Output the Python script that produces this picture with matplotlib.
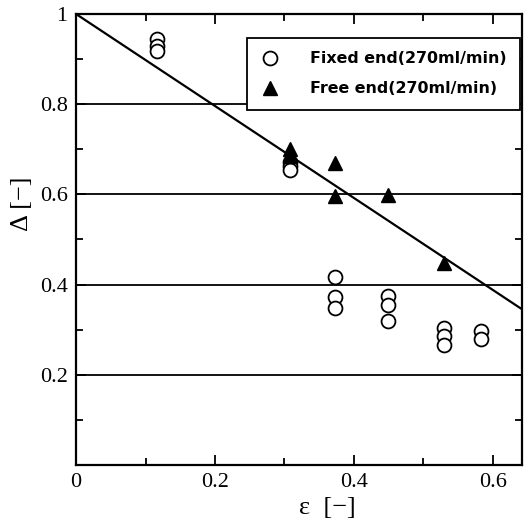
import matplotlib.pyplot as plt
from matplotlib.ticker import MultipleLocator

# Fixed end (270ml/min), open circles
fixed_eps = [0.117, 0.117, 0.117, 0.308, 0.308, 0.308,
             0.373, 0.373, 0.373, 0.449, 0.449, 0.449,
             0.530, 0.530, 0.530, 0.583, 0.583]
fixed_delta = [0.945, 0.93, 0.918, 0.672, 0.662, 0.655,
               0.417, 0.372, 0.348, 0.375, 0.355, 0.319,
               0.303, 0.285, 0.265, 0.296, 0.280]

# Free end (270ml/min), filled triangles
free_eps = [0.308, 0.308, 0.373, 0.373, 0.449, 0.530]
free_delta = [0.70, 0.685, 0.67, 0.597, 0.599, 0.448]

# Fitted line
line_eps = [0.0, 0.65]
line_delta = [1.0, 0.337]

grid_levels = [0.2, 0.4, 0.6, 0.8]

fig = plt.figure(figsize=(5.29, 5.24), dpi=100)
ax = fig.add_axes([0.1437, 0.1126, 0.8433, 0.8607])

for g in grid_levels:
    ax.axhline(g, color="black", linewidth=1.3, zorder=1)

ax.plot(line_eps, line_delta, color="black", linewidth=1.6, zorder=2)
ax.plot(fixed_eps, fixed_delta, linestyle="none", marker="o", markersize=10,
        markerfacecolor="white", markeredgecolor="black", markeredgewidth=1.3,
        label="Fixed end(270ml/min)", zorder=3)
ax.plot(free_eps, free_delta, linestyle="none", marker="^", markersize=10,
        color="black", label="Free end(270ml/min)", zorder=4)

ax.set_xlim(0, 0.642)
ax.set_ylim(0, 1)

ax.set_xticks([0, 0.2, 0.4, 0.6])
ax.set_xticklabels(["0", "0.2", "0.4", "0.6"])
ax.set_yticks([0.2, 0.4, 0.6, 0.8, 1.0])
ax.set_yticklabels(["0.2", "0.4", "0.6", "0.8", "1"])
ax.xaxis.set_minor_locator(MultipleLocator(0.1))
ax.yaxis.set_minor_locator(MultipleLocator(0.1))
ax.tick_params(which="both", direction="in", top=True, right=True, width=1.3)
ax.tick_params(which="major", length=7, pad=6)
ax.tick_params(which="minor", length=5)
for lab in ax.get_xticklabels() + ax.get_yticklabels():
    lab.set_family("Liberation Serif")
    lab.set_fontsize(16)

for sp in ax.spines.values():
    sp.set_linewidth(1.6)

ax.set_xlabel("ε  [−]", family="Liberation Serif", fontsize=19, labelpad=2)
ax.xaxis.set_label_coords(0.563, -0.072)
ax.set_ylabel("Δ [−]", family="Liberation Serif", fontsize=19, labelpad=0)
ax.yaxis.set_label_coords(-0.097, 0.58)

leg = ax.legend(loc="upper right", bbox_to_anchor=(1.013, 0.965), frameon=True,
                fancybox=False, edgecolor="black", framealpha=1,
                prop={"family": "DejaVu Sans", "weight": "bold", "size": 11.4},
                handletextpad=1.9, borderpad=0.85, labelspacing=0.95,
                handlelength=1.2)
leg.get_frame().set_linewidth(1.3)

fig.savefig("out.png", dpi=100)
